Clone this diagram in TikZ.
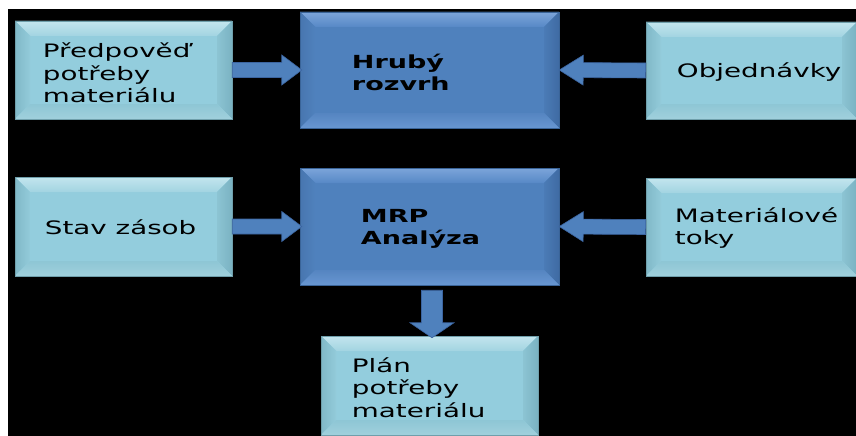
\documentclass[tikz,border=0pt]{standalone}
\usepackage{fontspec}
\usetikzlibrary{calc}
\newfontfamily\boxfont[FakeStretch=1.5]{DejaVu Sans}

% palette
\definecolor{lbface}{HTML}{93CDDD}
\definecolor{lbtopA}{HTML}{C3E5EE}
\definecolor{lbtopB}{HTML}{A2D4E1}
\definecolor{lbleftA}{HTML}{80B8C7}
\definecolor{lbleftB}{HTML}{93CBDA}
\definecolor{lbrightA}{HTML}{8CC4D3}
\definecolor{lbrightB}{HTML}{7AB2C2}
\definecolor{lbbotA}{HTML}{8EC6D5}
\definecolor{lbbotB}{HTML}{A0D0DC}
\definecolor{lbline}{HTML}{6F9FAB}
\definecolor{bbface}{HTML}{4F81BD}
\definecolor{bbtopA}{HTML}{7CA5DA}
\definecolor{bbtopB}{HTML}{5788C6}
\definecolor{bbleftA}{HTML}{4876AF}
\definecolor{bbleftB}{HTML}{4F81BD}
\definecolor{bbrightA}{HTML}{4B7BB6}
\definecolor{bbrightB}{HTML}{3F6BA3}
\definecolor{bbbotA}{HTML}{5585C1}
\definecolor{bbbotB}{HTML}{6896D1}
\definecolor{bbline}{HTML}{3A6498}
\definecolor{arrowfill}{HTML}{4F81BD}
\definecolor{arrowline}{HTML}{3B64A0}

% four bevel faces inside the current node: width, top, left, right, bottom
\newcommand\bevelfaces[5]{%
  \path (path picture bounding box.north west) coordinate (bv-nw)
        (path picture bounding box.north east) coordinate (bv-ne)
        (path picture bounding box.south east) coordinate (bv-se)
        (path picture bounding box.south west) coordinate (bv-sw);
  \fill[#2] (bv-nw) -- (bv-ne) -- ([shift={(-#1pt,-#1pt)}]bv-ne)
            -- ([shift={(#1pt,-#1pt)}]bv-nw) -- cycle;
  \fill[#3] (bv-nw) -- (bv-sw) -- ([shift={(#1pt,#1pt)}]bv-sw)
            -- ([shift={(#1pt,-#1pt)}]bv-nw) -- cycle;
  \fill[#4] (bv-ne) -- (bv-se) -- ([shift={(-#1pt,#1pt)}]bv-se)
            -- ([shift={(-#1pt,-#1pt)}]bv-ne) -- cycle;
  \fill[#5] (bv-sw) -- (bv-se) -- ([shift={(-#1pt,#1pt)}]bv-se)
            -- ([shift={(#1pt,#1pt)}]bv-sw) -- cycle;
}

% block arrow between two points: from, to, half shaft, half head, head length
\newcommand\blockarrow[5]{%
  \draw[flowarrow] let \p1=(#1), \p2=(#2),
      \n1={atan2(\y2-\y1,\x2-\x1)}, \n2={veclen(\x2-\x1,\y2-\y1)} in
    [shift={(\p1)}, rotate=\n1]
    (0pt,-#3pt) -- ({\n2*1pt-#5pt},-#3pt) -- ({\n2*1pt-#5pt},-#4pt)
    -- ({\n2*1pt},0pt) -- ({\n2*1pt-#5pt},#4pt) -- ({\n2*1pt-#5pt},#3pt)
    -- (0pt,#3pt) -- cycle;
}

\begin{document}
\begin{tikzpicture}[x=1pt,y=-1pt,
  lightbox/.style={rectangle, draw=lbline, line width=0.5pt, fill=lbface,
    inner sep=0pt,
    path picture={\bevelfaces{15}{top color=lbtopA,bottom color=lbtopB}%
      {left color=lbleftA,right color=lbleftB}%
      {left color=lbrightA,right color=lbrightB}%
      {top color=lbbotA,bottom color=lbbotB}}},
  bluebox/.style={rectangle, draw=bbline, line width=0.5pt, fill=bbface,
    inner sep=0pt,
    path picture={\bevelfaces{15}{top color=bbtopA,bottom color=bbtopB}%
      {left color=bbleftA,right color=bbleftB}%
      {left color=bbrightA,right color=bbrightB}%
      {top color=bbbotA,bottom color=bbbotB}}},
  boxtext/.style={anchor=west, inner sep=0pt, align=left, text=black,
    font=\boxfont\fontsize{18.5}{22.5}\selectfont},
  boldtext/.style={boxtext, font=\boxfont\bfseries\fontsize{18}{22}\selectfont},
  flowarrow/.style={fill=arrowfill, draw=arrowline, line width=0.6pt,
    line join=miter}
]
\useasboundingbox (0,0) rectangle (856,436);
\fill[white] (0,0) rectangle (856,436);
\fill[black] (8,9) rectangle (856,436);

% upper row
\node[lightbox, minimum width=217pt, minimum height=98pt] (pred) at (123.5,70) {};
\node[bluebox, minimum width=259pt, minimum height=116pt] (hruby) at (429.5,70) {};
\node[lightbox, minimum width=211pt, minimum height=97pt] (obj) at (751.5,70.5) {};

% lower row
\node[lightbox, minimum width=217pt, minimum height=99pt] (stav) at (123.5,226.5) {};
\node[bluebox, minimum width=259pt, minimum height=117pt] (mrp) at (429.5,226.5) {};
\node[lightbox, minimum width=211pt, minimum height=98pt] (mat) at (751.5,227) {};

% result
\node[lightbox, minimum width=217pt, minimum height=99pt] (plan) at (429.5,385.5) {};

% labels
\node[boxtext] (pred-t) at ([shift={(28pt,-3pt)}]pred.west) {Předpověď\\potřeby\\materiálu};
\node[boldtext] (hruby-t) at ([shift={(52pt,-2pt)}]hruby.west) {Hrubý\\rozvrh};
\node[boxtext] (obj-t) at ([shift={(31pt,-2pt)}]obj.west) {Objednávky};
\node[boxtext] (stav-t) at ([shift={(30pt,-1pt)}]stav.west) {Stav zásob};
\node[boldtext] (mrp-t) at ([shift={(61pt,-2pt)}]mrp.west) {MRP\\Analýza};
\node[boxtext] (mat-t) at ([shift={(29pt,-1pt)}]mat.west) {Materiálové\\toky};
\node[boxtext] (plan-t) at ([shift={(31pt,-2pt)}]plan.west) {Plán\\potřeby\\materiálu};

% connectors
\blockarrow{pred.east}{[xshift=2pt]hruby.west}{7.5}{15}{20}
\blockarrow{obj.west}{hruby.east}{7.5}{15}{24}
\blockarrow{stav.east}{[xshift=2pt]mrp.west}{7.5}{15}{20}
\blockarrow{mat.west}{mrp.east}{7.5}{15}{24}
\blockarrow{[shift={(2.5pt,-5pt)}]mrp.south}{[shift={(2.5pt,-2pt)}]plan.north}{10.5}{22}{15}
\end{tikzpicture}
\end{document}
